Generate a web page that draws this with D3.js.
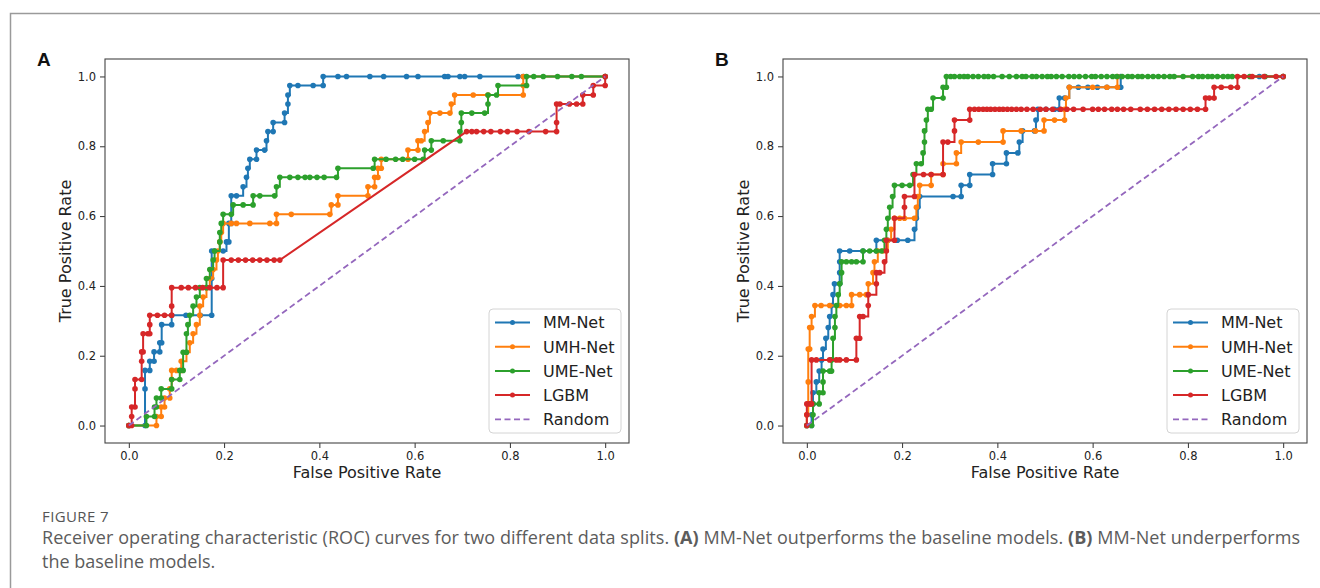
<!DOCTYPE html>
<html>
<head>
<meta charset="utf-8">
<script src="https://cdn.jsdelivr.net/npm/d3@7"></script>
<style>
  body { margin: 0; background: #fff; }
  text { white-space: pre; }
</style>
</head>
<body>
<div id="chart"></div>
<script>
(function(){
  var width = 1320, height = 588;

  // ---- data ----
  var xTicks = [0, 0.2, 0.4, 0.6, 0.8, 1.0];
  var yTicks = [0, 0.2, 0.4, 0.6, 0.8, 1.0];
  var modelNames = ["MM-Net", "UMH-Net", "UME-Net", "LGBM", "Random"];

  // panel A (fpr, tpr)
  var mmNetA = [[0,0],[0.034,0],[0.034,0.105],[0.034,0.158],[0.044,0.158],[0.044,0.184],[0.053,0.184],[0.053,0.211],[0.065,0.211],[0.065,0.237],[0.069,0.237],[0.069,0.289],[0.09,0.289],[0.09,0.316],[0.12,0.316],[0.15,0.316],[0.174,0.316],[0.174,0.421],[0.174,0.5],[0.18,0.5],[0.198,0.5],[0.205,0.526],[0.21,0.526],[0.21,0.579],[0.215,0.579],[0.215,0.658],[0.226,0.658],[0.24,0.684],[0.247,0.711],[0.25,0.737],[0.254,0.763],[0.268,0.763],[0.268,0.789],[0.285,0.789],[0.289,0.816],[0.292,0.842],[0.303,0.842],[0.303,0.868],[0.327,0.868],[0.327,0.895],[0.334,0.921],[0.334,0.947],[0.338,0.974],[0.355,0.974],[0.387,0.974],[0.408,0.974],[0.408,1],[0.439,1],[0.457,1],[0.506,1],[0.535,1],[0.583,1],[0.607,1],[0.663,1],[0.67,1],[0.695,1],[0.705,1],[0.737,1],[0.817,1],[0.828,1],[1,1]];
  var umhNetA = [[0,0],[0.058,0],[0.058,0.026],[0.068,0.026],[0.068,0.053],[0.075,0.053],[0.075,0.079],[0.086,0.079],[0.086,0.105],[0.09,0.132],[0.09,0.158],[0.1,0.158],[0.11,0.158],[0.11,0.184],[0.121,0.21],[0.128,0.237],[0.135,0.263],[0.142,0.289],[0.149,0.316],[0.149,0.342],[0.156,0.368],[0.163,0.395],[0.17,0.421],[0.177,0.447],[0.184,0.474],[0.187,0.5],[0.191,0.526],[0.194,0.553],[0.198,0.579],[0.215,0.579],[0.226,0.579],[0.254,0.579],[0.296,0.579],[0.31,0.579],[0.31,0.605],[0.341,0.605],[0.422,0.605],[0.425,0.632],[0.439,0.632],[0.439,0.658],[0.502,0.658],[0.502,0.684],[0.516,0.684],[0.516,0.711],[0.523,0.711],[0.523,0.737],[0.53,0.737],[0.53,0.763],[0.586,0.763],[0.586,0.789],[0.607,0.789],[0.607,0.816],[0.614,0.816],[0.621,0.842],[0.628,0.868],[0.632,0.895],[0.653,0.895],[0.674,0.895],[0.677,0.921],[0.684,0.947],[0.723,0.947],[0.754,0.947],[0.828,0.947],[0.828,0.974],[0.828,1],[1,1]];
  var umeNetA = [[0,0],[0.037,0],[0.037,0.026],[0.054,0.026],[0.054,0.053],[0.058,0.053],[0.058,0.079],[0.068,0.079],[0.068,0.105],[0.09,0.105],[0.09,0.132],[0.107,0.132],[0.107,0.158],[0.114,0.158],[0.114,0.21],[0.121,0.21],[0.121,0.263],[0.124,0.289],[0.128,0.316],[0.135,0.342],[0.142,0.368],[0.149,0.395],[0.163,0.395],[0.163,0.421],[0.17,0.447],[0.177,0.474],[0.18,0.5],[0.191,0.526],[0.191,0.553],[0.194,0.579],[0.198,0.605],[0.215,0.605],[0.219,0.632],[0.24,0.632],[0.261,0.632],[0.261,0.658],[0.275,0.658],[0.306,0.658],[0.31,0.684],[0.317,0.711],[0.338,0.711],[0.355,0.711],[0.37,0.711],[0.38,0.711],[0.395,0.711],[0.41,0.711],[0.436,0.711],[0.439,0.737],[0.513,0.737],[0.516,0.763],[0.54,0.763],[0.56,0.763],[0.575,0.763],[0.6,0.763],[0.618,0.763],[0.621,0.789],[0.635,0.789],[0.635,0.816],[0.66,0.816],[0.695,0.816],[0.695,0.842],[0.698,0.868],[0.698,0.895],[0.72,0.895],[0.747,0.895],[0.754,0.921],[0.754,0.947],[0.772,0.947],[0.775,0.974],[0.835,0.974],[0.835,1],[0.85,1],[0.87,1],[0.9,1],[0.93,1],[0.95,1],[1,1]];
  var lgbmA = [[0,0],[0.006,0],[0.006,0.026],[0.006,0.053],[0.013,0.053],[0.013,0.105],[0.013,0.132],[0.027,0.132],[0.027,0.184],[0.027,0.211],[0.03,0.211],[0.03,0.263],[0.04,0.263],[0.044,0.263],[0.044,0.289],[0.044,0.316],[0.06,0.316],[0.075,0.316],[0.09,0.316],[0.09,0.342],[0.09,0.395],[0.11,0.395],[0.125,0.395],[0.14,0.395],[0.155,0.395],[0.17,0.395],[0.185,0.395],[0.198,0.395],[0.198,0.474],[0.215,0.474],[0.23,0.474],[0.245,0.474],[0.26,0.474],[0.275,0.474],[0.29,0.474],[0.305,0.474],[0.317,0.474],[0.709,0.842],[0.72,0.842],[0.73,0.842],[0.745,0.842],[0.76,0.842],[0.78,0.842],[0.795,0.842],[0.815,0.842],[0.84,0.842],[0.875,0.842],[0.898,0.842],[0.898,0.868],[0.898,0.921],[0.905,0.921],[0.925,0.921],[0.94,0.921],[0.953,0.921],[0.953,0.947],[0.975,0.947],[0.975,0.974],[1,0.974],[1,1]];

  // panel B (fpr, tpr)
  var mmNetB = [[0,0],[0.01,0],[0.01,0.031],[0.013,0.062],[0.013,0.094],[0.02,0.125],[0.026,0.156],[0.031,0.188],[0.034,0.219],[0.04,0.25],[0.045,0.281],[0.048,0.3125],[0.052,0.344],[0.055,0.375],[0.058,0.406],[0.069,0.406],[0.069,0.438],[0.069,0.469],[0.069,0.5],[0.09,0.5],[0.118,0.5],[0.146,0.5],[0.146,0.531],[0.17,0.531],[0.19,0.531],[0.212,0.531],[0.226,0.562],[0.23,0.594],[0.233,0.625],[0.237,0.656],[0.307,0.656],[0.324,0.656],[0.324,0.688],[0.342,0.688],[0.342,0.719],[0.39,0.719],[0.39,0.75],[0.419,0.75],[0.419,0.781],[0.443,0.781],[0.446,0.812],[0.453,0.844],[0.478,0.844],[0.481,0.875],[0.485,0.906],[0.502,0.906],[0.52,0.906],[0.53,0.906],[0.53,0.938],[0.541,0.938],[0.551,0.969],[0.57,0.969],[0.59,0.969],[0.61,0.969],[0.63,0.969],[0.659,0.969],[0.659,1],[0.95,1],[1,1]];
  var umhNetB = [[0,0],[0,0.031],[0.003,0.062],[0.003,0.125],[0.003,0.219],[0.006,0.219],[0.006,0.281],[0.01,0.281],[0.01,0.3125],[0.017,0.344],[0.03,0.344],[0.048,0.344],[0.069,0.344],[0.083,0.344],[0.094,0.344],[0.094,0.375],[0.111,0.375],[0.125,0.375],[0.129,0.406],[0.139,0.438],[0.142,0.469],[0.149,0.5],[0.16,0.5],[0.17,0.531],[0.177,0.562],[0.184,0.594],[0.195,0.594],[0.205,0.594],[0.226,0.594],[0.23,0.625],[0.233,0.656],[0.237,0.688],[0.261,0.688],[0.261,0.719],[0.286,0.719],[0.286,0.75],[0.314,0.75],[0.314,0.781],[0.324,0.812],[0.36,0.812],[0.412,0.812],[0.412,0.844],[0.45,0.844],[0.48,0.844],[0.498,0.844],[0.498,0.875],[0.52,0.875],[0.541,0.875],[0.541,0.906],[0.544,0.938],[0.551,0.969],[0.6,0.969],[0.63,0.969],[0.652,0.969],[0.652,1],[1,1]];
  var umeNetB = [[0,0],[0.01,0],[0.013,0.031],[0.013,0.062],[0.026,0.062],[0.026,0.094],[0.034,0.094],[0.034,0.125],[0.034,0.156],[0.048,0.156],[0.052,0.156],[0.052,0.188],[0.055,0.25],[0.059,0.281],[0.059,0.3125],[0.062,0.344],[0.066,0.375],[0.069,0.406],[0.073,0.438],[0.073,0.469],[0.083,0.469],[0.094,0.469],[0.104,0.469],[0.118,0.469],[0.118,0.5],[0.132,0.5],[0.146,0.5],[0.157,0.5],[0.163,0.531],[0.167,0.562],[0.17,0.594],[0.174,0.625],[0.18,0.656],[0.184,0.688],[0.2,0.688],[0.216,0.688],[0.223,0.719],[0.23,0.75],[0.24,0.75],[0.244,0.781],[0.247,0.812],[0.247,0.844],[0.251,0.875],[0.254,0.906],[0.261,0.906],[0.265,0.938],[0.286,0.938],[0.286,0.969],[0.293,0.969],[0.293,1],[0.302,1],[0.31,1],[0.321,1],[0.33,1],[0.338,1],[0.349,1],[0.36,1],[0.372,1],[0.381,1],[0.392,1],[0.41,1],[0.425,1],[0.44,1],[0.452,1],[0.46,1],[0.473,1],[0.482,1],[0.494,1],[0.505,1],[0.513,1],[0.524,1],[0.536,1],[0.55,1],[0.561,1],[0.572,1],[0.585,1],[0.598,1],[0.606,1],[0.618,1],[0.63,1],[0.642,1],[0.651,1],[0.662,1],[0.674,1],[0.683,1],[0.695,1],[0.704,1],[0.716,1],[0.727,1],[0.738,1],[0.75,1],[0.762,1],[0.771,1],[0.79,1],[0.81,1],[0.822,1],[0.831,1],[0.842,1],[0.851,1],[0.862,1],[0.874,1],[0.884,1],[0.893,1],[0.93,1],[0.962,1],[1,1]];
  var lgbmB = [[0,0],[0,0.031],[0,0.062],[0.006,0.062],[0.01,0.062],[0.01,0.188],[0.02,0.188],[0.048,0.188],[0.062,0.188],[0.069,0.188],[0.083,0.188],[0.104,0.188],[0.104,0.25],[0.111,0.25],[0.111,0.3125],[0.118,0.3125],[0.129,0.344],[0.129,0.375],[0.146,0.406],[0.146,0.438],[0.153,0.438],[0.163,0.469],[0.167,0.5],[0.167,0.531],[0.184,0.531],[0.184,0.594],[0.205,0.625],[0.205,0.656],[0.226,0.656],[0.226,0.719],[0.245,0.719],[0.261,0.719],[0.286,0.719],[0.286,0.812],[0.296,0.812],[0.31,0.844],[0.31,0.875],[0.342,0.875],[0.342,0.906],[0.352,0.906],[0.361,0.906],[0.37,0.906],[0.378,0.906],[0.386,0.906],[0.395,0.906],[0.404,0.906],[0.412,0.906],[0.421,0.906],[0.43,0.906],[0.44,0.906],[0.45,0.906],[0.462,0.906],[0.475,0.906],[0.49,0.906],[0.502,0.906],[0.516,0.906],[0.533,0.906],[0.546,0.906],[0.56,0.906],[0.58,0.906],[0.6,0.906],[0.612,0.906],[0.625,0.906],[0.64,0.906],[0.652,0.906],[0.665,0.906],[0.68,0.906],[0.7,0.906],[0.715,0.906],[0.73,0.906],[0.745,0.906],[0.76,0.906],[0.775,0.906],[0.79,0.906],[0.805,0.906],[0.82,0.906],[0.837,0.906],[0.837,0.938],[0.845,0.938],[0.855,0.938],[0.855,0.969],[0.87,0.969],[0.89,0.969],[0.904,0.969],[0.904,1],[0.918,1],[0.935,1],[0.96,1],[0.985,1],[1,1]];

  var randomLine = [[0,0],[1,1]];

  var colors = ["#1f77b4", "#ff7f0e", "#2ca02c", "#d62728", "#9467bd"];

  var svg = d3.select("#chart")
    .append("svg")
    .attr("width", width)
    .attr("height", height);

  // figure frame
  svg.append("path")
    .attr("d", "M10.5," + height + "V13.5H" + width)
    .attr("fill", "none")
    .attr("stroke", "#9a9a9a")
    .attr("stroke-width", 1.5);

  function drawPanel(cfg) {
    var g = svg.append("g");
    var x = d3.scaleLinear().domain([-0.05, 1.05]).range([cfg.left, cfg.right]);
    var y = d3.scaleLinear().domain([-0.05, 1.05]).range([cfg.bottom, cfg.top]);

    // axes
    var xAxis = g.append("g")
      .attr("transform", "translate(0," + cfg.bottom + ")")
      .call(d3.axisBottom(x).tickValues(xTicks).tickFormat(d3.format(".1f")).tickSize(5).tickPadding(4));
    var yAxis = g.append("g")
      .attr("transform", "translate(" + cfg.left + ",0)")
      .call(d3.axisLeft(y).tickValues(yTicks).tickFormat(d3.format(".1f")).tickSize(5).tickPadding(4));
    [xAxis, yAxis].forEach(function(a){
      a.select(".domain").remove();
      a.selectAll(".tick line").attr("stroke", "#333").attr("stroke-width", 1);
      a.selectAll(".tick text")
        .attr("font-family", "DejaVu Sans, sans-serif")
        .attr("font-size", 11.5)
        .attr("fill", "#222");
    });

    var plot = g.append("g");

    cfg.curves.forEach(function(c, i){
      var line = d3.line()
        .x(function(d){ return x(d[0]); })
        .y(function(d){ return y(d[1]); })
        .curve(c.linear ? d3.curveLinear : d3.curveStepAfter);
      plot.append("path")
        .datum(c.data)
        .attr("fill", "none")
        .attr("stroke", colors[i])
        .attr("stroke-width", 2)
        .attr("d", line);
      plot.selectAll(".dot" + i)
        .data(c.data)
        .enter().append("circle")
        .attr("class", "dot" + i)
        .attr("cx", function(d){ return x(d[0]); })
        .attr("cy", function(d){ return y(d[1]); })
        .attr("r", 2.8)
        .attr("fill", colors[i]);
    });

    // random classifier
    plot.append("path")
      .datum(randomLine)
      .attr("fill", "none")
      .attr("stroke", colors[4])
      .attr("stroke-width", 1.8)
      .attr("stroke-dasharray", "6,3.5")
      .attr("d", d3.line().x(function(d){ return x(d[0]); }).y(function(d){ return y(d[1]); }));

    // spines
    g.append("rect")
      .attr("x", cfg.left).attr("y", cfg.top)
      .attr("width", cfg.right - cfg.left).attr("height", cfg.bottom - cfg.top)
      .attr("fill", "none")
      .attr("stroke", "#444")
      .attr("stroke-width", 1.1);

    // axis labels
    g.append("text")
      .attr("x", (cfg.left + cfg.right) / 2)
      .attr("y", cfg.bottom + 35)
      .attr("text-anchor", "middle")
      .attr("font-family", "DejaVu Sans, sans-serif")
      .attr("font-size", 16)
      .attr("fill", "#222")
      .text("False Positive Rate");
    g.append("text")
      .attr("transform", "translate(" + (cfg.left - 34) + "," + ((cfg.top + cfg.bottom) / 2) + ") rotate(-90)")
      .attr("text-anchor", "middle")
      .attr("font-family", "DejaVu Sans, sans-serif")
      .attr("font-size", 16)
      .attr("fill", "#222")
      .text("True Positive Rate");

    // panel letter
    g.append("text")
      .attr("x", cfg.left - 68)
      .attr("y", cfg.top + 7)
      .attr("font-family", "Liberation Sans, Arial, sans-serif")
      .attr("font-weight", "bold")
      .attr("font-size", 19)
      .attr("fill", "#111")
      .text(cfg.letter);

    // legend
    var lw = 132, lh = 124;
    var lx = cfg.right - 8 - lw, ly = cfg.bottom - 10 - lh;
    var leg = g.append("g").attr("transform", "translate(" + lx + "," + ly + ")");
    leg.append("rect")
      .attr("width", lw).attr("height", lh)
      .attr("rx", 4)
      .attr("fill", "#fff").attr("fill-opacity", 0.85)
      .attr("stroke", "#d4d4d4");
    modelNames.forEach(function(name, i){
      var yy = 13.5 + i * 24.2;
      leg.append("line")
        .attr("x1", 6).attr("x2", 41).attr("y1", yy).attr("y2", yy)
        .attr("stroke", colors[i])
        .attr("stroke-width", i === 4 ? 1.8 : 2)
        .attr("stroke-dasharray", i === 4 ? "6,3.5" : null);
      if (i < 4) {
        leg.append("circle").attr("cx", 23.5).attr("cy", yy).attr("r", 2.5).attr("fill", colors[i]);
      }
      leg.append("text")
        .attr("x", 54).attr("y", yy + 5.8)
        .attr("font-family", "DejaVu Sans, sans-serif")
        .attr("font-size", 16)
        .attr("fill", "#222")
        .text(name);
    });
  }

  drawPanel({
    letter: "A", left: 105, right: 629, top: 59, bottom: 443,
    curves: [{data: mmNetA}, {data: umhNetA}, {data: umeNetA}, {data: lgbmA, linear: true}]
  });
  drawPanel({
    letter: "B", left: 783, right: 1307, top: 59, bottom: 443,
    curves: [{data: mmNetB}, {data: umhNetB}, {data: umeNetB}, {data: lgbmB}]
  });

  // caption
  svg.append("text")
    .attr("x", 42).attr("y", 522)
    .attr("font-family", "Open Sans, sans-serif")
    .attr("font-size", 15)
    .attr("letter-spacing", 0.4)
    .attr("fill", "#555")
    .text("FIGURE 7");

  var cap = svg.append("text")
    .attr("x", 42).attr("y", 544)
    .attr("font-family", "Open Sans, sans-serif")
    .attr("font-size", 18)
    .attr("textLength", 1258)
    .attr("lengthAdjust", "spacing")
    .attr("fill", "#5c5c5c");
  cap.append("tspan").text("Receiver operating characteristic (ROC) curves for two different data splits. ");
  cap.append("tspan").attr("font-weight", "bold").text("(A)");
  cap.append("tspan").text(" MM-Net outperforms the baseline models. ");
  cap.append("tspan").attr("font-weight", "bold").text("(B)");
  cap.append("tspan").text(" MM-Net underperforms");

  svg.append("text")
    .attr("x", 42).attr("y", 568)
    .attr("font-family", "Open Sans, sans-serif")
    .attr("font-size", 18)
    .attr("fill", "#5c5c5c")
    .text("the baseline models.");
})();
</script>
</body>
</html>
